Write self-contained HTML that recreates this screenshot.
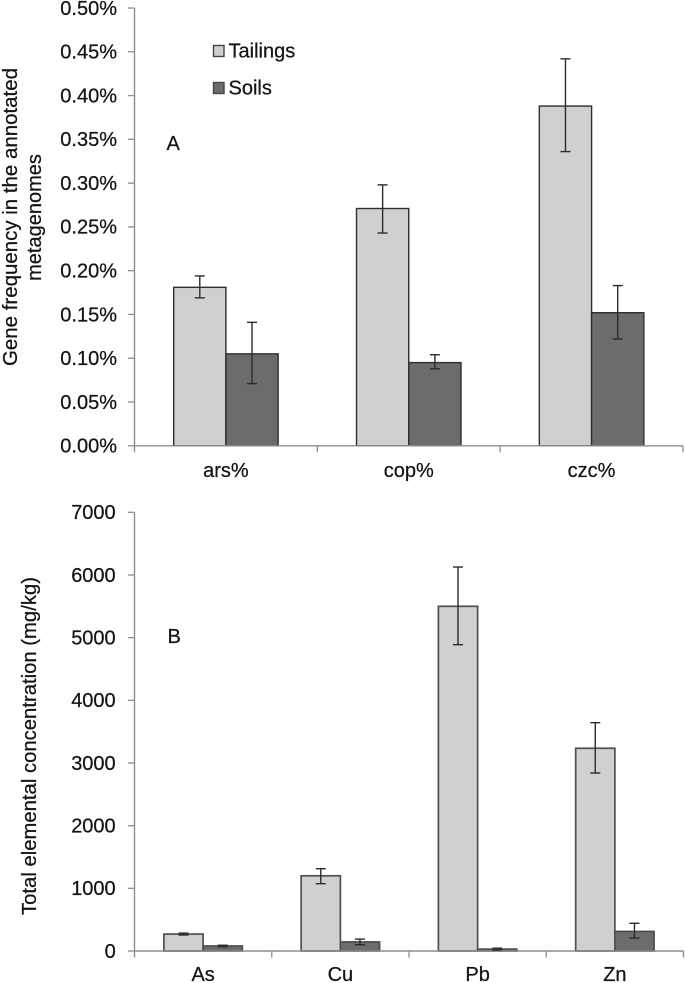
<!DOCTYPE html>
<html lang="en">
<head>
<meta charset="utf-8">
<title>Gene frequency and elemental concentration</title>
<style>
html,body{margin:0;padding:0;background:#fff;}
body{width:685px;height:983px;overflow:hidden;}
svg{display:block;filter:blur(0.35px);}
text{font-family:"Liberation Sans",sans-serif;font-size:20px;fill:#141414;stroke:#141414;stroke-width:0.25px;}
</style>
</head>
<body>
<svg id="figure" width="685" height="983" viewBox="0 0 685 983" xmlns="http://www.w3.org/2000/svg">
  <g id="panel-a"></g>
  <g id="panel-b"></g>

  <text transform="translate(17,217) rotate(-90)" text-anchor="middle" textLength="298" lengthAdjust="spacingAndGlyphs">Gene frequency in the annotated</text>
  <text transform="translate(41,217.5) rotate(-90)" text-anchor="middle">metagenomes</text>
  <text transform="translate(36,746) rotate(-90)" text-anchor="middle" textLength="338" lengthAdjust="spacingAndGlyphs">Total elemental concentration (mg/kg)</text>

  <text x="166.5" y="150">A</text>
  <text x="167.5" y="643">B</text>

  <g>
    <g>
      <rect x="213.5" y="45.5" width="10.5" height="11" fill="#d0d0d0" stroke="#444" stroke-width="1.4"></rect>
      <text x="228.5" y="57.5">Tailings</text>
    </g>
    <g>
      <rect x="213.5" y="82.5" width="10.5" height="11" fill="#6c6c6c" stroke="#444" stroke-width="1.4"></rect>
      <text x="228.5" y="94.5">Soils</text>
    </g>
  </g>
</svg>
<script>
const genesCategories = ['ars%', 'cop%', 'czc%'];
const genesTicks = [0, 0.05, 0.10, 0.15, 0.20, 0.25, 0.30, 0.35, 0.40, 0.45, 0.50];
const genesTailings = [0.181, 0.271, 0.388];
const genesTailingsErrHigh = [0.194, 0.298, 0.442];
const genesTailingsErrLow = [0.169, 0.243, 0.336];
const genesSoils = [0.105, 0.095, 0.152];
const genesSoilsErrHigh = [0.141, 0.104, 0.183];
const genesSoilsErrLow = [0.071, 0.088, 0.122];

const metalsCategories = ['As', 'Cu', 'Pb', 'Zn'];
const metalsTicks = [0, 1000, 2000, 3000, 4000, 5000, 6000, 7000];
const metalsTailings = [270, 1200, 5500, 3235];
const metalsTailingsErrHigh = [285, 1313, 6127, 3643];
const metalsTailingsErrLow = [255, 1074, 4888, 2840];
const metalsSoils = [80, 145, 30, 312];
const metalsSoilsErrHigh = [92, 190, 45, 442];
const metalsSoilsErrLow = [68, 100, 15, 207];

const SVG_NS = 'http://www.w3.org/2000/svg';

function make(parent, tag, attrs) {
  const el = document.createElementNS(SVG_NS, tag);
  for (const k in attrs) el.setAttribute(k, attrs[k]);
  parent.appendChild(el);
  return el;
}

function drawChart(cfg) {
  const root = document.getElementById(cfg.id);
  const axisColor = '#8e8e8e';
  const y = v => cfg.y0 - (v / cfg.yMax) * (cfg.y0 - cfg.yTop);
  const band = (cfg.xEnd - cfg.x0) / cfg.categories.length;
  const x = i => cfg.x0 + band * i;
  const barW = band / 3.5;

  cfg.ticks.forEach(t => {
    const tick = make(root, 'line', {x1: cfg.x0 - 6.5, x2: cfg.x0, y1: y(t), y2: y(t), stroke: axisColor, 'stroke-width': 1.3});
    
    
    const label = make(root, 'text', {x: cfg.labelX, y: y(t) + 6.8, 'text-anchor': 'end'});
    label.textContent = cfg.format(t);
    
    
  });

  const series = [
    {key: 'tailings', vals: cfg.tailings, hi: cfg.tailingsHi, lo: cfg.tailingsLo, fill: '#d0d0d0', off: 0},
    {key: 'soils', vals: cfg.soils, hi: cfg.soilsHi, lo: cfg.soilsLo, fill: '#6c6c6c', off: 1}
  ];

  series.forEach(s => {
    cfg.categories.forEach((c, i) => {
      const left = x(i) + band * 0.2143 + barW * s.off;
      const bar = make(root, 'rect', {x: left, y: y(s.vals[i]), width: barW, height: y(0) - y(s.vals[i]), fill: s.fill, stroke: cfg.barStroke, 'stroke-width': cfg.barStrokeWidth});
      
      
    });
  });

  const yAxis = make(root, 'line', {x1: cfg.x0, x2: cfg.x0, y1: y(cfg.yMax), y2: cfg.y0 + 6.5, stroke: axisColor, 'stroke-width': 1.4});
  
  
  const xAxis = make(root, 'line', {x1: cfg.x0, x2: cfg.xEnd, y1: cfg.y0, y2: cfg.y0, stroke: axisColor, 'stroke-width': 1.4});
  
  

  cfg.categories.forEach((c, i) => {
    const tick = make(root, 'line', {x1: x(i + 1), x2: x(i + 1), y1: cfg.y0, y2: cfg.y0 + 6.5, stroke: axisColor, 'stroke-width': 1.3});
    
    
    const label = make(root, 'text', {x: x(i) + band / 2, y: cfg.catY, 'text-anchor': 'middle'});
    label.textContent = c;
    
    
  });

  series.forEach(s => {
    cfg.categories.forEach((c, i) => {
      const cx = x(i) + band * 0.2143 + barW * (s.off + 0.5);
      const g = make(root, 'g', {stroke: '#2c2c2c', 'stroke-width': 1.4, fill: 'none'});
      
      
      make(g, 'line', {x1: cx, x2: cx, y1: y(s.hi[i]), y2: y(s.lo[i])});
      make(g, 'line', {x1: cx - 5, x2: cx + 5, y1: y(s.hi[i]), y2: y(s.hi[i])});
      make(g, 'line', {x1: cx - 5, x2: cx + 5, y1: y(s.lo[i]), y2: y(s.lo[i])});
    });
  });
}

drawChart({
  id: 'panel-a', prefix: 'panel-a',
  categories: genesCategories, ticks: genesTicks,
  tailings: genesTailings, tailingsHi: genesTailingsErrHigh, tailingsLo: genesTailingsErrLow,
  soils: genesSoils, soilsHi: genesSoilsErrHigh, soilsLo: genesSoilsErrLow,
  yMax: 0.5, y0: 445.8, yTop: 8, x0: 134.5, xEnd: 683,
  labelX: 117, catY: 477, barStroke: '#2e2e2e', barStrokeWidth: 1.4,
  format: t => t.toFixed(2) + '%'
});

drawChart({
  id: 'panel-b', prefix: 'panel-b',
  categories: metalsCategories, ticks: metalsTicks,
  tailings: metalsTailings, tailingsHi: metalsTailingsErrHigh, tailingsLo: metalsTailingsErrLow,
  soils: metalsSoils, soilsHi: metalsSoilsErrHigh, soilsLo: metalsSoilsErrLow,
  yMax: 7000, y0: 951, yTop: 512.3, x0: 134.5, xEnd: 683.5,
  labelX: 115.7, catY: 981, barStroke: '#505050', barStrokeWidth: 1.7,
  format: t => String(t)
});
</script>
</body>
</html>
